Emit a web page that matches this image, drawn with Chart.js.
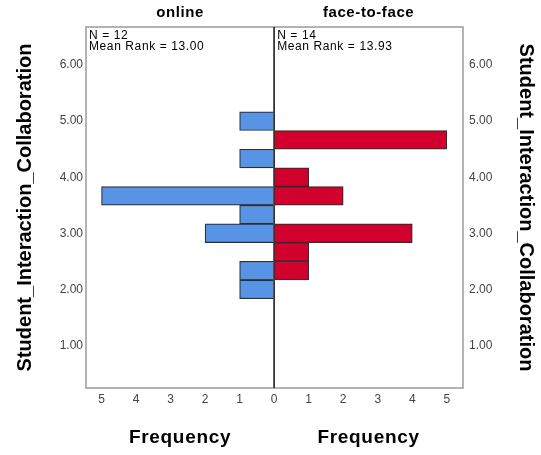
<!DOCTYPE html>
<html>
<head>
<meta charset="utf-8">
<script src="https://cdn.jsdelivr.net/npm/chart.js@4/dist/chart.umd.min.js"></script>
<style>
  html, body { margin: 0; padding: 0; background: #fff; }
  #wrap { width: 541px; height: 455px; position: relative; }
</style>
</head>
<body>
<div id="wrap"><canvas id="c" width="541" height="455"></canvas></div>
<script>
// Groups and their summary statistics
const groups = ['online', 'face-to-face'];
const groupN = [12, 14];
const groupMeanRank = ['13.00', '13.93'];

// Score bins (bar centres) and frequencies per group
const scoreBins = [5.000, 4.667, 4.333, 4.000, 3.667, 3.333, 3.000, 2.667, 2.333, 2.000];
const onlineFreq = [1, 0, 1, 0, 5, 1, 2, 0, 1, 1];
const faceFreq   = [0, 5, 0, 1, 2, 0, 4, 1, 1, 0];

// Tick values
const scoreTicks = [1, 2, 3, 4, 5, 6];
const freqTicks = [-5, -4, -3, -2, -1, 0, 1, 2, 3, 4, 5];

const scoreTitle = 'Student_Interaction_Collaboration';
const freqTitle = 'Frequency';

const FONT = '"Liberation Sans", Arial, sans-serif';
Chart.defaults.font.family = FONT;

// online frequencies extend to the left, face-to-face to the right
function toPoints(freq, sign) {
  const pts = [];
  scoreBins.forEach((v, i) => {
    if (freq[i] > 0) pts.push({ y: v, x: sign * freq[i] });
  });
  return pts;
}

const panelDecor = {
  id: 'panelDecor',
  afterDatasetsDraw(chart) {
    const { ctx, chartArea: a, scales } = chart;
    const zx = scales.x.getPixelForValue(0);
    ctx.save();
    // panel frames
    ctx.strokeStyle = '#9a9a9a';
    ctx.lineWidth = 1.5;
    ctx.strokeRect(a.left, a.top, zx - a.left, a.bottom - a.top);
    ctx.strokeRect(zx, a.top, a.right - zx, a.bottom - a.top);
    // zero line
    ctx.strokeStyle = '#2a2a2a';
    ctx.lineWidth = 1.5;
    ctx.beginPath();
    ctx.moveTo(zx, a.top);
    ctx.lineTo(zx, a.bottom);
    ctx.stroke();

    const centres = [(a.left + zx) / 2, (zx + a.right) / 2];
    const lefts = [a.left, zx];

    // panel titles
    ctx.fillStyle = '#000';
    ctx.textAlign = 'center';
    ctx.textBaseline = 'middle';
    ctx.font = 'bold 15px ' + FONT;
    ctx.letterSpacing = '0.6px';
    groups.forEach((g, i) => ctx.fillText(g, centres[i], a.top - 14));

    // group statistics
    ctx.textAlign = 'left';
    ctx.font = '12px ' + FONT;
    ctx.letterSpacing = '0.6px';
    groups.forEach((g, i) => {
      ctx.fillText('N = ' + groupN[i], lefts[i] + 3, a.top + 9);
      ctx.fillText('Mean Rank = ' + groupMeanRank[i], lefts[i] + 3, a.top + 20);
    });

    // frequency axis titles
    ctx.textAlign = 'center';
    ctx.font = 'bold 19px ' + FONT;
    ctx.letterSpacing = '0.7px';
    centres.forEach(cx => ctx.fillText(freqTitle, cx, a.bottom + 50));
    ctx.letterSpacing = '0px';
    ctx.restore();
  }
};

const scoreAxis = (position, padTick, padTitle, width) => ({
  type: 'linear',
  position,
  min: 0.24,
  max: 6.68,
  offset: false,
  grid: { display: false, drawTicks: false },
  border: { display: false },
  afterBuildTicks: s => { s.ticks = scoreTicks.map(v => ({ value: v })); },
  afterFit: s => { s.width = width; },
  ticks: {
    padding: padTick,
    color: '#444',
    font: { size: 12 },
    callback: v => Number(v).toFixed(2)
  },
  title: {
    display: true,
    text: scoreTitle,
    color: '#000',
    font: { size: 20, weight: 'bold' },
    padding: { top: padTitle, bottom: 0 }
  }
});

new Chart(document.getElementById('c'), {
  type: 'bar',
  data: {
    datasets: [
      {
        label: groups[0],
        data: toPoints(onlineFreq, -1),
        backgroundColor: '#5894e6',
        borderColor: '#2e2e2e',
        borderWidth: 1.2,
        borderSkipped: false,
        grouped: false,
        barPercentage: 1,
        categoryPercentage: 1,
        yAxisID: 'y'
      },
      {
        label: groups[1],
        data: toPoints(faceFreq, 1),
        backgroundColor: '#d2002d',
        borderColor: '#2e2e2e',
        borderWidth: 1.2,
        borderSkipped: false,
        grouped: false,
        barPercentage: 1,
        categoryPercentage: 1,
        yAxisID: 'y'
      }
    ]
  },
  options: {
    indexAxis: 'y',
    responsive: false,
    animation: false,
    devicePixelRatio: 1,
    layout: { padding: { top: 27, left: 0, right: 0, bottom: 0 } },
    plugins: { legend: { display: false }, tooltip: { enabled: false } },
    scales: {
      x: {
        type: 'linear',
        position: 'bottom',
        min: -5.45,
        max: 5.47,
        grid: { display: false, drawTicks: false },
        border: { display: false },
        afterBuildTicks: s => { s.ticks = freqTicks.map(v => ({ value: v })); },
        afterFit: s => { s.height = 67; },
        ticks: {
          padding: 4,
          color: '#444',
          font: { size: 12 },
          callback: v => String(Math.abs(v))
        }
      },
      y: scoreAxis('left', 3, 13, 86),
      y2: scoreAxis('right', 6, 3, 78)
    }
  },
  plugins: [panelDecor]
});
</script>
</body>
</html>
